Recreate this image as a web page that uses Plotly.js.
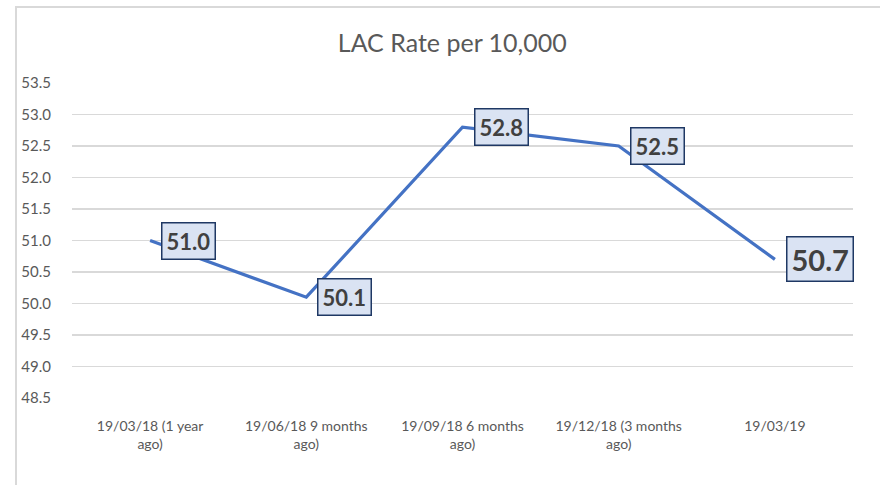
<!DOCTYPE html>
<html>
<head>
<meta charset="utf-8">
<script src="https://cdn.plot.ly/plotly-3.0.1.min.js"></script>
<style>
html,body{margin:0;padding:0;background:#fff;}
#wrap{position:relative;width:880px;height:485px;overflow:hidden;}
#frame{position:absolute;left:15px;top:6px;width:900px;height:500px;border-left:2px solid #d9d9d9;border-top:2px solid #d9d9d9;pointer-events:none;}
#chart{position:absolute;left:0;top:0;width:880px;height:485px;}
</style>
</head>
<body>
<div id="wrap"><div id="chart"></div><div id="frame"></div></div>
<script>
const categories = ["19/03/18 (1 year<br>ago)", "19/06/18 9 months<br>ago)", "19/09/18 6 months<br>ago)", "19/12/18 (3 months<br>ago)", "19/03/19"];
const rates = [51.0, 50.1, 52.8, 52.5, 50.7];
const labelSizes = [22, 22, 22, 22, 29];
const yTicks = [48.5, 49.0, 49.5, 50.0, 50.5, 51.0, 51.5, 52.0, 52.5, 53.0, 53.5];

const FONT = "Lato, 'Open Sans', sans-serif";

const annotations = rates.map((v, i) => ({
  x: categories[i], y: v, xref: 'x', yref: 'y',
  text: '<b>' + v.toFixed(1) + '</b>',
  showarrow: false, xanchor: 'left', yanchor: 'middle',
  xshift: 11,
  font: {family: FONT, size: labelSizes[i], color: '#404040'},
  bgcolor: '#dae3f3', bordercolor: '#1f3864', borderwidth: 1.5, borderpad: 4
}));

Plotly.newPlot('chart', [{
  type: 'scatter', mode: 'lines',
  x: categories, y: rates,
  line: {color: '#4472c4', width: 3.2}
}], {
  width: 880, height: 485,
  margin: {l: 72, r: 27, t: 83, b: 87},
  paper_bgcolor: '#ffffff', plot_bgcolor: '#ffffff',
  showlegend: false,
  title: {text: 'LAC Rate per 10,000', x: 0.514, xanchor: 'center', y: 0.911, yanchor: 'middle',
          font: {family: FONT, size: 25, color: '#595959'}},
  xaxis: {type: 'category', range: [-0.5, 4.5], showgrid: false, zeroline: false, showline: false,
          tickfont: {family: FONT, size: 14, color: '#595959'}, ticks: 'outside', ticklen: 15, tickcolor: 'rgba(0,0,0,0)'},
  yaxis: {range: [48.5, 53.5], tickvals: yTicks, ticktext: yTicks.map(t => t.toFixed(1)),
          showgrid: true, gridcolor: '#d9d9d9', gridwidth: 1.5, zeroline: false, showline: false,
          tickfont: {family: FONT, size: 15, color: '#595959'}, ticks: 'outside', ticklen: 17, tickcolor: 'rgba(0,0,0,0)'},
  annotations: annotations
}, {displayModeBar: false, staticPlot: true});
</script>
</body>
</html>
